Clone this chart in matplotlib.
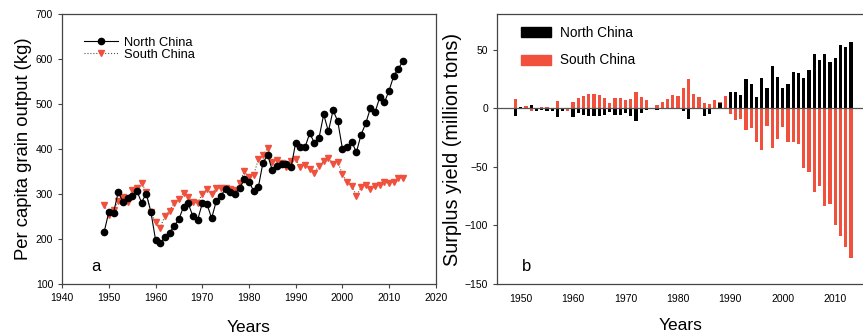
import numpy as np
import matplotlib
matplotlib.use("Agg")
import matplotlib.pyplot as plt
from matplotlib.patches import Patch
from matplotlib.lines import Line2D

plt.rcParams['font.family'] = ['Liberation Sans', 'DejaVu Sans']

years = np.arange(1949, 2014)

# per capita grain output (kg)
north_pc = [216, 260, 258, 304, 283, 292, 295, 307, 281, 301,
            260, 198, 190, 205, 214, 229, 244, 272, 279, 250,
            242, 279, 278, 246, 284, 296, 312, 304, 301, 313,
            333, 327, 307, 315, 370, 386, 353, 362, 366, 366,
            359, 414, 405, 404, 435, 414, 425, 477, 439, 486,
            462, 401, 404, 416, 393, 432, 457, 491, 482, 515,
            504, 530, 563, 579, 596]
south_pc = [276, 253, 264, 285, 294, 283, 309, 314, 325, 305,
            259, 237, 225, 251, 263, 281, 289, 303, 293, 283,
            279, 301, 310, 301, 313, 313, 313, 310, 309, 325,
            351, 337, 342, 377, 386, 402, 372, 376, 370, 359,
            374, 377, 361, 364, 355, 347, 363, 373, 381, 367,
            372, 344, 326, 318, 296, 315, 321, 311, 318, 321,
            326, 324, 327, 336, 335]

# surplus yield (million tons)
north_surplus = [-6.5, 0.8, -0.5, 2.6, -2.0, -1.5, -2.5, -2.3, -7.2, -2.0,
                 -0.5, -7.2, -4.5, -5.5, -6.5, -7.0, -7.0, -5.5, -3.5, -6.0,
                 -6.0, -4.5, -6.5, -11.0, -4.0, -1.5, 0.5, -1.5, 0.0, 0.0,
                 0.0, 0.0, -2.5, -9.5, 0.0, -1.0, -6.3, -4.6, 0.0, 4.0,
                 0.0, 13.5, 13.5, 11.2, 25.3, 20.4, 9.2, 25.6, 17.5, 36.2,
                 26.4, 17.2, 20.7, 30.7, 29.6, 26.1, 32.5, 46.0, 40.8, 46.6,
                 39.4, 42.5, 53.7, 52.0, 56.3]
south_surplus = [7.5, 0.3, 1.5, -2.3, 0.5, 1.0, 1.3, 0.3, 6.3, 0.3,
                 -2.3, 4.9, 8.9, 10.3, 11.8, 12.4, 11.2, 8.3, 4.3, 8.3,
                 8.3, 7.2, 8.0, 13.8, 9.8, 6.9, 0.3, 2.6, 5.5, 7.5,
                 11.2, 10.3, 17.0, 25.0, 12.0, 9.2, 4.0, 3.7, 6.9, 5.5,
                 10.3, -5.2, -10.3, -8.9, -18.4, -16.9, -28.6, -35.6, -15.5, -33.9,
                 -26.1, -16.4, -28.6, -29.2, -30.2, -51.4, -54.9, -71.6, -66.4, -83.3,
                 -81.9, -100.0, -108.9, -118.7, -128.2]

red = '#f0503c'
spine_col = '#444444'

fig = plt.figure(figsize=(8.63, 3.36), dpi=100)
ax1 = fig.add_axes([0.072, 0.155, 0.433, 0.803])
ax2 = fig.add_axes([0.576, 0.155, 0.424, 0.802])

# panel a: per capita output
ax1.plot(years, south_pc, linestyle=':', color='#555555', linewidth=0.8,
         marker='v', markersize=4.8, markerfacecolor=red, markeredgecolor=red, zorder=2)
ax1.plot(years, north_pc, linestyle='-', color='black', linewidth=0.8,
         marker='o', markersize=4.5, markerfacecolor='black', markeredgecolor='black', zorder=3)
ax1.set_xlim(1940, 2020)
ax1.set_ylim(100, 700)
ax1.set_xticks(np.arange(1940, 2021, 10))
ax1.set_yticks(np.arange(100, 701, 100))
ax1.set_xlabel('Years', fontsize=12.5, labelpad=12)
ax1.set_ylabel('Per capita grain output (kg)', fontsize=13.3, labelpad=3)
ax1.text(1946.3, 128, 'a', fontsize=12)
h1 = [Line2D([], [], color='black', lw=0.8, marker='o', markersize=4.5),
      Line2D([], [], color='#555555', lw=0.8, ls=':', marker='v', markersize=4.8,
             markerfacecolor=red, markeredgecolor=red)]
ax1.legend(h1, ['North China', 'South China'], loc='upper left', frameon=False,
           fontsize=9.3, bbox_to_anchor=(0.045, 0.935), handlelength=2.6,
           handletextpad=0.5, labelspacing=0.0, borderaxespad=0)

# panel b: surplus yield
ax2.bar(years, south_surplus, width=0.62, color=red, zorder=2)
ax2.bar(years, north_surplus, width=0.62, color='black', zorder=3)
ax2.axhline(0, color='#555555', linewidth=0.9, zorder=4)
ax2.set_xlim(1945.5, 2015.3)
ax2.set_ylim(-150, 80)
ax2.set_xticks(np.arange(1950, 2011, 10))
ax2.set_yticks(np.arange(-150, 51, 50))
ax2.set_xlabel('Years', fontsize=12.5, labelpad=10)
ax2.set_ylabel('Surplus yield (million tons)', fontsize=14.3, labelpad=2)
ax2.spines['right'].set_visible(False)
ax2.text(1950.3, -139, 'b', fontsize=12)
h2 = [Patch(color='black'), Patch(color=red)]
ax2.legend(h2, ['North China', 'South China'], loc='upper left', frameon=False,
           fontsize=9.8, bbox_to_anchor=(0.05, 0.978), handlelength=2.2, handleheight=0.75,
           handletextpad=0.65, labelspacing=1.0, borderaxespad=0)

for ax in (ax1, ax2):
    for s in ax.spines.values():
        s.set_color(spine_col)
        s.set_linewidth(0.9)
    ax.tick_params(labelsize=7.5, length=3, width=0.8, color=spine_col, direction='out')
ax2.tick_params(axis='x', length=0, pad=7)

fig.savefig('out.png', dpi=100)
